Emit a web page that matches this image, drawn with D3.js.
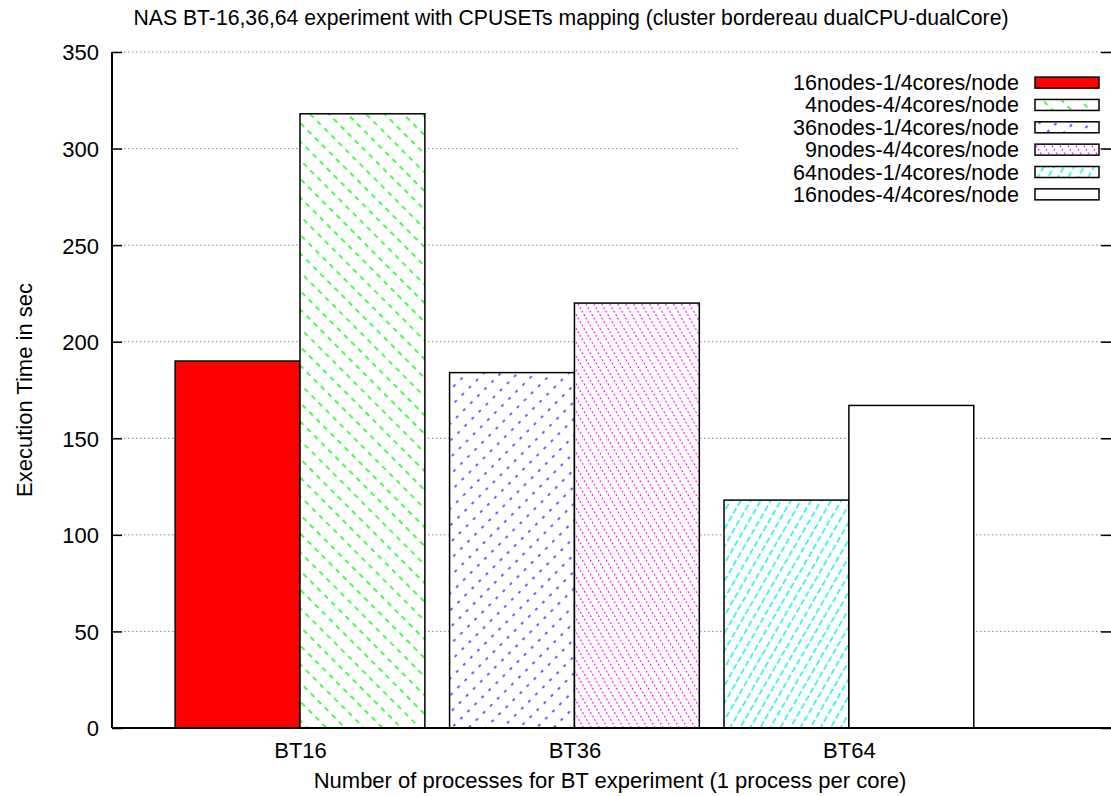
<!DOCTYPE html>
<html><head><meta charset="utf-8">
<script src="https://cdn.jsdelivr.net/npm/d3@7"></script>
<style>
html,body{margin:0;padding:0;background:#fff;}
svg{display:block;}
text{font-family:"Liberation Sans",Arial,sans-serif;fill:#000;}
</style></head>
<body>
<script>
const title = "NAS BT-16,36,64 experiment with CPUSETs mapping (cluster bordereau dualCPU-dualCore)";
const xLabel = "Number of processes for BT experiment (1 process per core)";
const yLabel = "Execution Time in sec";
const categories = ["BT16", "BT36", "BT64"];
const seriesNames = ["16nodes-1/4cores/node", "4nodes-4/4cores/node", "36nodes-1/4cores/node",
                     "9nodes-4/4cores/node", "64nodes-1/4cores/node", "16nodes-4/4cores/node"];
const seriesValues = [190, 318, 184, 220, 118, 167];
const seriesCategory = [0, 0, 1, 1, 2, 2];
const seriesSlot = [0, 1, 0, 1, 0, 1];
const yTicks = [0, 50, 100, 150, 200, 250, 300, 350];

const W = 1111, H = 796;
const M = {left: 112, right: 1111, top: 52, bottom: 728};
const fontSize = 22;

const svg = d3.select("body").append("svg").attr("width", W).attr("height", H);
const defs = svg.append("defs");

// hatch patterns
const pats = [
  null,
  {id: "pGreen", color: "#00ff00", rot: -45, w: 13.2, dash: "5,5", per: 10, sw: 1.4},
  {id: "pBlue", color: "#0000ff", rot: 45, w: 12, dash: "3,7", per: 10, sw: 1.2},
  {id: "pMag", color: "#ff00ff", rot: -30, w: 6.9, dash: "2,2", per: 4, sw: 1.1},
  {id: "pCyan", color: "#00eeee", rot: 30, w: 8.7, dash: "6,3", per: 9, sw: 1.4},
  null
];
pats.forEach(p => {
  if (!p) return;
  const pt = defs.append("pattern").attr("id", p.id).attr("patternUnits", "userSpaceOnUse")
    .attr("width", p.w).attr("height", p.per * 3)
    .attr("patternTransform", `rotate(${p.rot})`);
  pt.append("rect").attr("width", p.w).attr("height", p.per * 3).attr("fill", "#fff");
  pt.append("line").attr("x1", p.w / 2).attr("x2", p.w / 2).attr("y1", 0).attr("y2", p.per * 3)
    .attr("stroke", p.color).attr("stroke-width", p.sw).attr("stroke-dasharray", p.dash);
});
const fills = ["#ff0000", "url(#pGreen)", "url(#pBlue)", "url(#pMag)", "url(#pCyan)", "#ffffff"];

const x = d3.scaleLinear().domain([-0.685, 2.955]).range([M.left, M.right]);
const y = d3.scaleLinear().domain([0, 350]).range([M.bottom, M.top]);
const barW = 0.455;

// grid
const grid = svg.append("g");
grid.selectAll("line").data(yTicks.filter(d => d > 0)).join("line")
  .attr("x1", M.left).attr("x2", M.right)
  .attr("y1", d => y(d)).attr("y2", d => y(d))
  .attr("stroke", "#888").attr("stroke-width", 1).attr("stroke-dasharray", "1.5,2.5");

// legend background (opaque key)
svg.append("rect").attr("x", 738).attr("y", 66).attr("width", 362).attr("height", 140).attr("fill", "#fff");

// bars
svg.append("g").selectAll("rect").data(seriesValues).join("rect")
  .attr("x", (d, i) => x(seriesCategory[i] - barW + seriesSlot[i] * barW))
  .attr("width", x(barW) - x(0))
  .attr("y", d => y(d))
  .attr("height", d => y(0) - y(d))
  .attr("fill", (d, i) => fills[i])
  .attr("stroke", "#000").attr("stroke-width", 1.5);

// axes
const yAxisL = d3.axisLeft(y).tickValues(yTicks).tickSize(-10).tickPadding(13);
const gy = svg.append("g").attr("transform", `translate(${M.left},0)`).call(yAxisL);
gy.select(".domain").remove();
gy.selectAll(".tick line").attr("stroke", "#000").attr("stroke-width", 1.5);
gy.selectAll(".tick text").attr("font-size", fontSize).attr("font-family", "Liberation Sans, Arial, sans-serif").attr("dy", "0.36em");

const yAxisR = d3.axisRight(y).tickValues(yTicks).tickSize(-10).tickFormat("");
const gyr = svg.append("g").attr("transform", `translate(${M.right},0)`).call(yAxisR);
gyr.select(".domain").remove();
gyr.selectAll(".tick line").attr("stroke", "#000").attr("stroke-width", 1.5);

const xAxis = d3.axisBottom(x).tickValues([0, 1, 2]).tickFormat(i => categories[i]).tickSize(0).tickPadding(14);
const gx = svg.append("g").attr("transform", `translate(0,${M.bottom})`).call(xAxis);
gx.select(".domain").remove();
gx.selectAll(".tick text").attr("font-size", fontSize).attr("font-family", "Liberation Sans, Arial, sans-serif").attr("dy", "0.71em");

// border lines (left + bottom)
svg.append("line").attr("x1", M.left).attr("x2", M.left).attr("y1", M.top).attr("y2", M.bottom)
  .attr("stroke", "#000").attr("stroke-width", 2);
svg.append("line").attr("x1", M.left).attr("x2", M.right).attr("y1", M.bottom).attr("y2", M.bottom)
  .attr("stroke", "#000").attr("stroke-width", 2);

// legend
const lg = svg.append("g");
seriesNames.forEach((name, i) => {
  const cy = 82.6 + i * 22.35;
  lg.append("text").attr("x", 1019).attr("y", cy + 7.5).attr("text-anchor", "end")
    .attr("font-size", 21.5).text(name);
  lg.append("rect").attr("x", 1035).attr("y", cy - 5.5).attr("width", 64).attr("height", 11)
    .attr("fill", fills[i]).attr("stroke", "#000").attr("stroke-width", 1.5);
});

// titles
svg.append("text").attr("x", 571).attr("y", 25).attr("text-anchor", "middle").attr("font-size", 21.2).text(title);
svg.append("text").attr("x", 610).attr("y", 788).attr("text-anchor", "middle").attr("font-size", fontSize).text(xLabel);
svg.append("text").attr("transform", "translate(32,390) rotate(-90)").attr("text-anchor", "middle")
  .attr("font-size", fontSize).text(yLabel);
</script>
</body></html>
